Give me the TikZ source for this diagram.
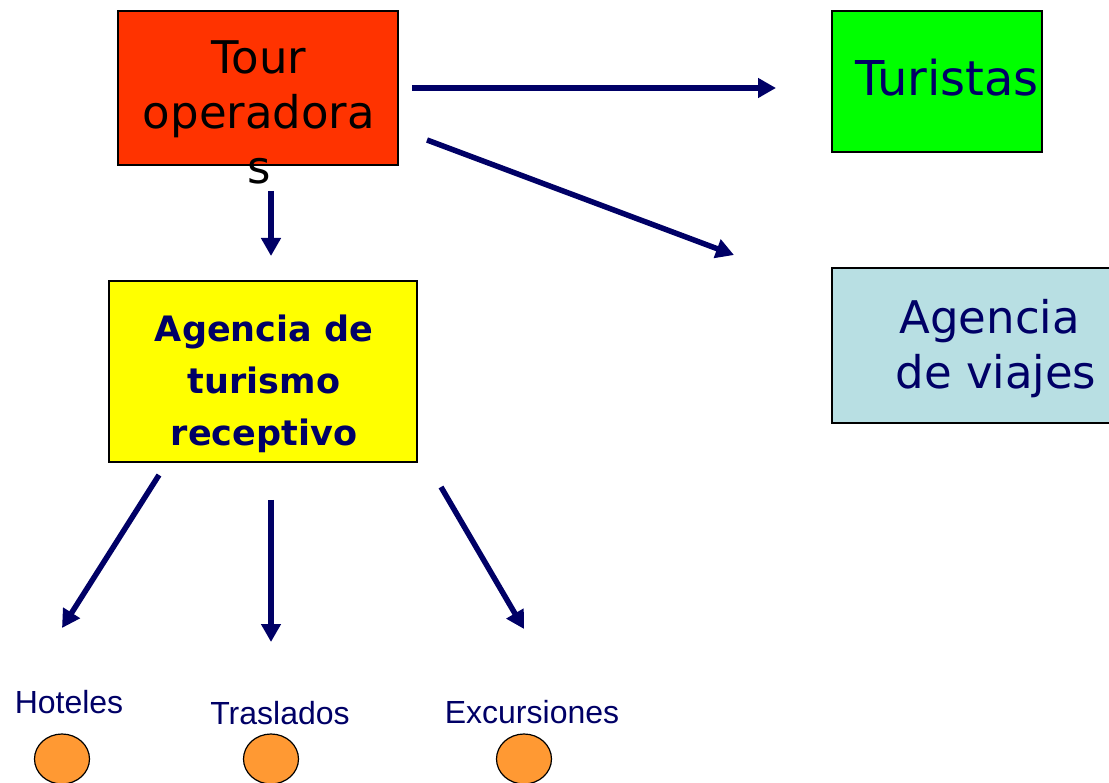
\documentclass[tikz,border=0pt]{standalone}
\usepackage{fontspec}
\setmainfont{DejaVu Sans}
\newfontfamily\arialf{Liberation Sans}
\usetikzlibrary{arrows.meta,shapes.geometric}
\definecolor{navy}{HTML}{000066}
\definecolor{tourred}{HTML}{FF3300}
\definecolor{turgreen}{HTML}{00FF00}
\definecolor{viajblue}{HTML}{B8DFE3}
\definecolor{recyellow}{HTML}{FFFF00}
\definecolor{dotorange}{HTML}{FF9933}
\tikzset{
  box/.style={draw=black, line width=1.2pt, rectangle, inner sep=0pt},
  bigtxt/.style={font=\fontsize{45}{55}\selectfont, align=center, inner sep=0pt},
  conn/.style={draw=navy, line width=5.5pt, -{Triangle[length=18pt,width=19pt]}},
  lbl/.style={font=\arialf\fontsize{32}{36}\selectfont, text=navy, inner sep=0pt},
  dot/.style={draw=black, line width=1.2pt, fill=dotorange, ellipse, minimum width=55pt, minimum height=50pt, inner sep=0pt}
}
\begin{document}
\begin{tikzpicture}[x=1pt,y=-1pt]
\useasboundingbox (0,0) rectangle (1109,783);
% boxes
\node[box, fill=tourred, minimum width=280pt, minimum height=154pt] (tour) at (258,88) {};
\node[box, fill=turgreen, minimum width=210pt, minimum height=141pt] (turistas) at (937,81.5) {};
\node[box, fill=viajblue, minimum width=290pt, minimum height=155pt] (viajes) at (977,345.5) {};
\node[box, fill=recyellow, minimum width=308pt, minimum height=181pt] (receptivo) at (263,371.5) {};
% texts
\node[bigtxt, text=black] (tourtxt) at (259,112) {Tour\\operadora\\s};
\node[bigtxt, text=navy, font=\fontsize{48}{55}\selectfont] (turtxt) at (947,78) {Turistas};
\node[bigtxt, text=navy, align=left] (viajtxt) at (996,349) {\hspace*{4pt}Agencia\\de viajes};
\node[font=\fontsize{35}{52}\selectfont\bfseries, text=navy, align=center, inner sep=0pt] (rectxt) at (264,384) {Agencia de\\turismo\\receptivo};
% labels
\node[lbl] (hot) at (69,702) {Hoteles};
\node[lbl] (tras) at (280,713) {Traslados};
\node[lbl] (exc) at (532,712) {Excursiones};
% dots
\node[dot] (d1) at (62,759) {};
\node[dot] (d2) at (271,759) {};
\node[dot] (d3) at (524,759) {};
% connector endpoints
\coordinate (a1s) at (412,88);  \coordinate (a1e) at (776,88);
\coordinate (a2s) at (427,140); \coordinate (a2e) at (734,255);
\coordinate (a3s) at (271,191); \coordinate (a3e) at (271,256);
\coordinate (a4s) at (159,475); \coordinate (a4e) at (62,628);
\coordinate (a5s) at (271,500); \coordinate (a5e) at (271,642);
\coordinate (a6s) at (441,487); \coordinate (a6e) at (524,629);
\draw[conn] (a1s) -- (a1e);
\draw[conn] (a2s) -- (a2e);
\draw[conn] (a3s) -- (a3e);
\draw[conn] (a4s) -- (a4e);
\draw[conn] (a5s) -- (a5e);
\draw[conn] (a6s) -- (a6e);
\end{tikzpicture}
\end{document}
